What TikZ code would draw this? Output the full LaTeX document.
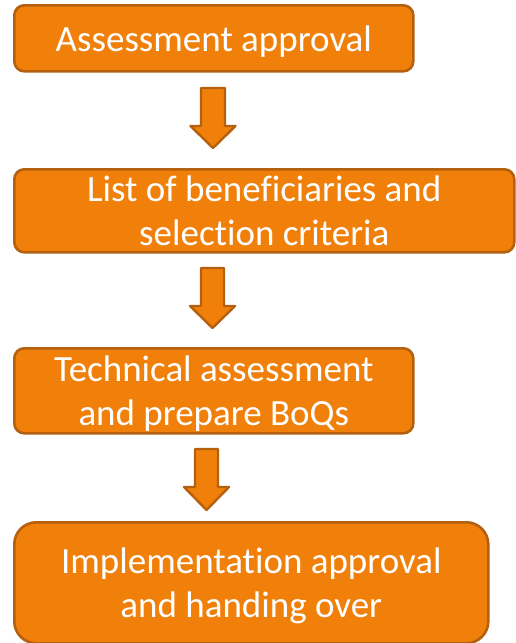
\documentclass[tikz,border=0pt]{standalone}
\usepackage{fontspec}
\setmainfont{Carlito}[Ligatures=NoCommon]
\usetikzlibrary{calc}
\definecolor{boxfill}{RGB}{240,128,10}
\definecolor{boxline}{RGB}{180,96,14}
\begin{document}
\begin{tikzpicture}[x=1pt,y=-1pt,
  stepbox/.style={draw=boxline, fill=boxfill, line width=2.6pt, rounded corners=10pt,
    text=white, align=center, inner sep=0pt, anchor=north west, text depth=0pt,
    font=\fontsize{37}{43.5}\selectfont},
  blockarrow/.style={draw=boxline, fill=boxfill, line width=2.4pt, line join=round}]
\useasboundingbox (0,0) rectangle (515,643);
\node[stepbox, minimum width=399, minimum height=66] (b1) at (13,4) {Assessment approval};
\node[stepbox, minimum width=500, minimum height=83] (b2) at (13,168) {List of beneficiaries and\\selection criteria};
\node[stepbox, minimum width=399, minimum height=85] (b3) at (13,347) {Technical assessment\\and prepare BoQs};
\node[stepbox, minimum width=474, minimum height=121, rounded corners=22pt] (b4) at (13,521) {Implementation approval\\and handing over};
% arrow 1
\coordinate (a1) at (213,88);
\draw[blockarrow] ($(a1)+(-12,0)$) -- ($(a1)+(12,0)$) -- ($(a1)+(12,38)$) -- ($(a1)+(22.5,38)$)
  -- ($(a1)+(0,60)$) -- ($(a1)+(-22.5,38)$) -- ($(a1)+(-12,38)$) -- cycle;
% arrow 2
\coordinate (a2) at (212.5,268);
\draw[blockarrow] ($(a2)+(-11.5,0)$) -- ($(a2)+(11.5,0)$) -- ($(a2)+(11.5,38)$) -- ($(a2)+(22.5,38)$)
  -- ($(a2)+(0,60)$) -- ($(a2)+(-22.5,38)$) -- ($(a2)+(-11.5,38)$) -- cycle;
% arrow 3
\coordinate (a3) at (206.5,449);
\draw[blockarrow] ($(a3)+(-11.5,0)$) -- ($(a3)+(11.5,0)$) -- ($(a3)+(11.5,38)$) -- ($(a3)+(22.5,38)$)
  -- ($(a3)+(0,61)$) -- ($(a3)+(-22.5,38)$) -- ($(a3)+(-11.5,38)$) -- cycle;
\end{tikzpicture}
\end{document}
